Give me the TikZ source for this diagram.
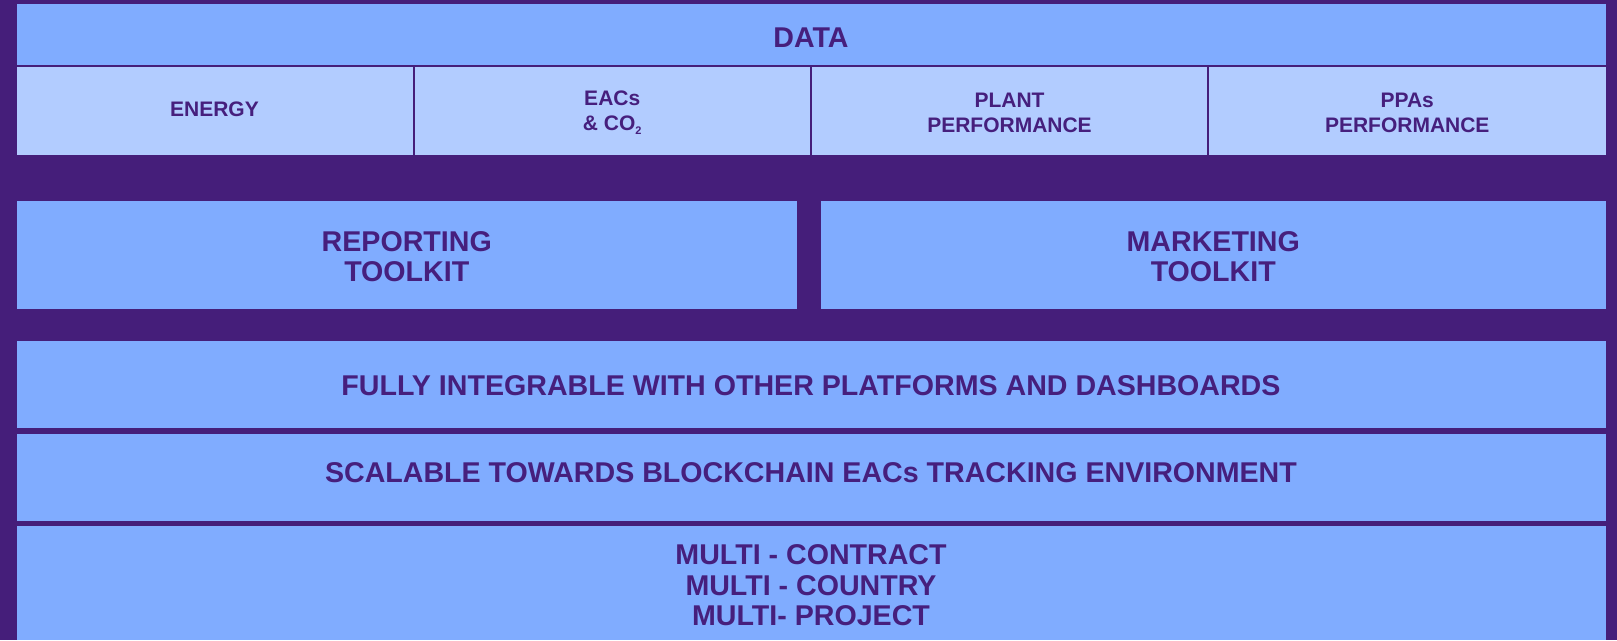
\documentclass[tikz,border=0pt]{standalone}
\usepackage{fontspec}
\setmainfont{Liberation Sans}
\definecolor{bgpurple}{RGB}{69,30,122}
\definecolor{boxblue}{RGB}{128,172,255}
\definecolor{boxlight}{RGB}{178,204,255}
\definecolor{txtpurple}{RGB}{70,31,125}
\tikzset{
  cell/.style={fill=boxblue, draw=none, inner sep=0pt},
  subcell/.style={cell, fill=boxlight},
  biglabel/.style={text=txtpurple, align=center, inner sep=0pt,
    font=\bfseries\fontsize{28.6}{29.5}\selectfont},
  smalllabel/.style={text=txtpurple, align=center, inner sep=0pt,
    font=\bfseries\fontsize{21}{25}\selectfont},
}
\begin{document}
\begin{tikzpicture}[x=1pt,y=-1pt]
\fill[bgpurple] (0,0) rectangle (1617,640);
\useasboundingbox (0,0) rectangle (1617,640);
% DATA header
\node[cell, minimum width=1589pt, minimum height=61pt] (data) at (811,34.5) {};
\node[biglabel] (datal) at (811,37.3) {DATA};
% sub cells
\node[subcell, minimum width=396pt, minimum height=88pt] (energy) at (214.5,111) {};
\node[subcell, minimum width=395.5pt, minimum height=88pt] (eacs) at (612.25,111) {};
\node[subcell, minimum width=395pt, minimum height=88pt] (plant) at (1009.5,111) {};
\node[subcell, minimum width=396.5pt, minimum height=88pt] (ppas) at (1407.25,111) {};
\node[smalllabel] (energyl) at (214.5,109.5) {ENERGY};
\node[smalllabel] (eacsl) at (612.25,113) {EACs\\\& CO\raisebox{-0.35ex}{\fontsize{11}{11}\selectfont 2}};
\node[smalllabel] (plantl) at (1009.5,112.5) {PLANT\\PERFORMANCE};
\node[smalllabel] (ppasl) at (1407.25,112.5) {PPAs\\PERFORMANCE};
% toolkits
\node[cell, minimum width=780.5pt, minimum height=108pt] (report) at (406.75,255) {};
\node[cell, minimum width=784.5pt, minimum height=108pt] (market) at (1213.25,255) {};
\node[biglabel] (reportl) at (406.75,256.5) {REPORTING\\TOOLKIT};
\node[biglabel] (marketl) at (1213.25,256.5) {MARKETING\\TOOLKIT};
% rows
\node[cell, minimum width=1589pt, minimum height=87pt] (fully) at (811,384.5) {};
\node[biglabel] (fullyl) at (811,386) {FULLY INTEGRABLE WITH OTHER PLATFORMS AND DASHBOARDS};
\node[cell, minimum width=1589pt, minimum height=87pt] (scal) at (811,477.5) {};
\node[biglabel] (scall) at (811,473) {SCALABLE TOWARDS BLOCKCHAIN EACs TRACKING ENVIRONMENT};
\node[cell, minimum width=1589pt, minimum height=114pt] (multi) at (811,583) {};
\node[biglabel, font=\bfseries\fontsize{28.6}{30.5}\selectfont] (multil) at (811,585.5) {MULTI - CONTRACT\\MULTI - COUNTRY\\MULTI- PROJECT};
\end{tikzpicture}
\end{document}
